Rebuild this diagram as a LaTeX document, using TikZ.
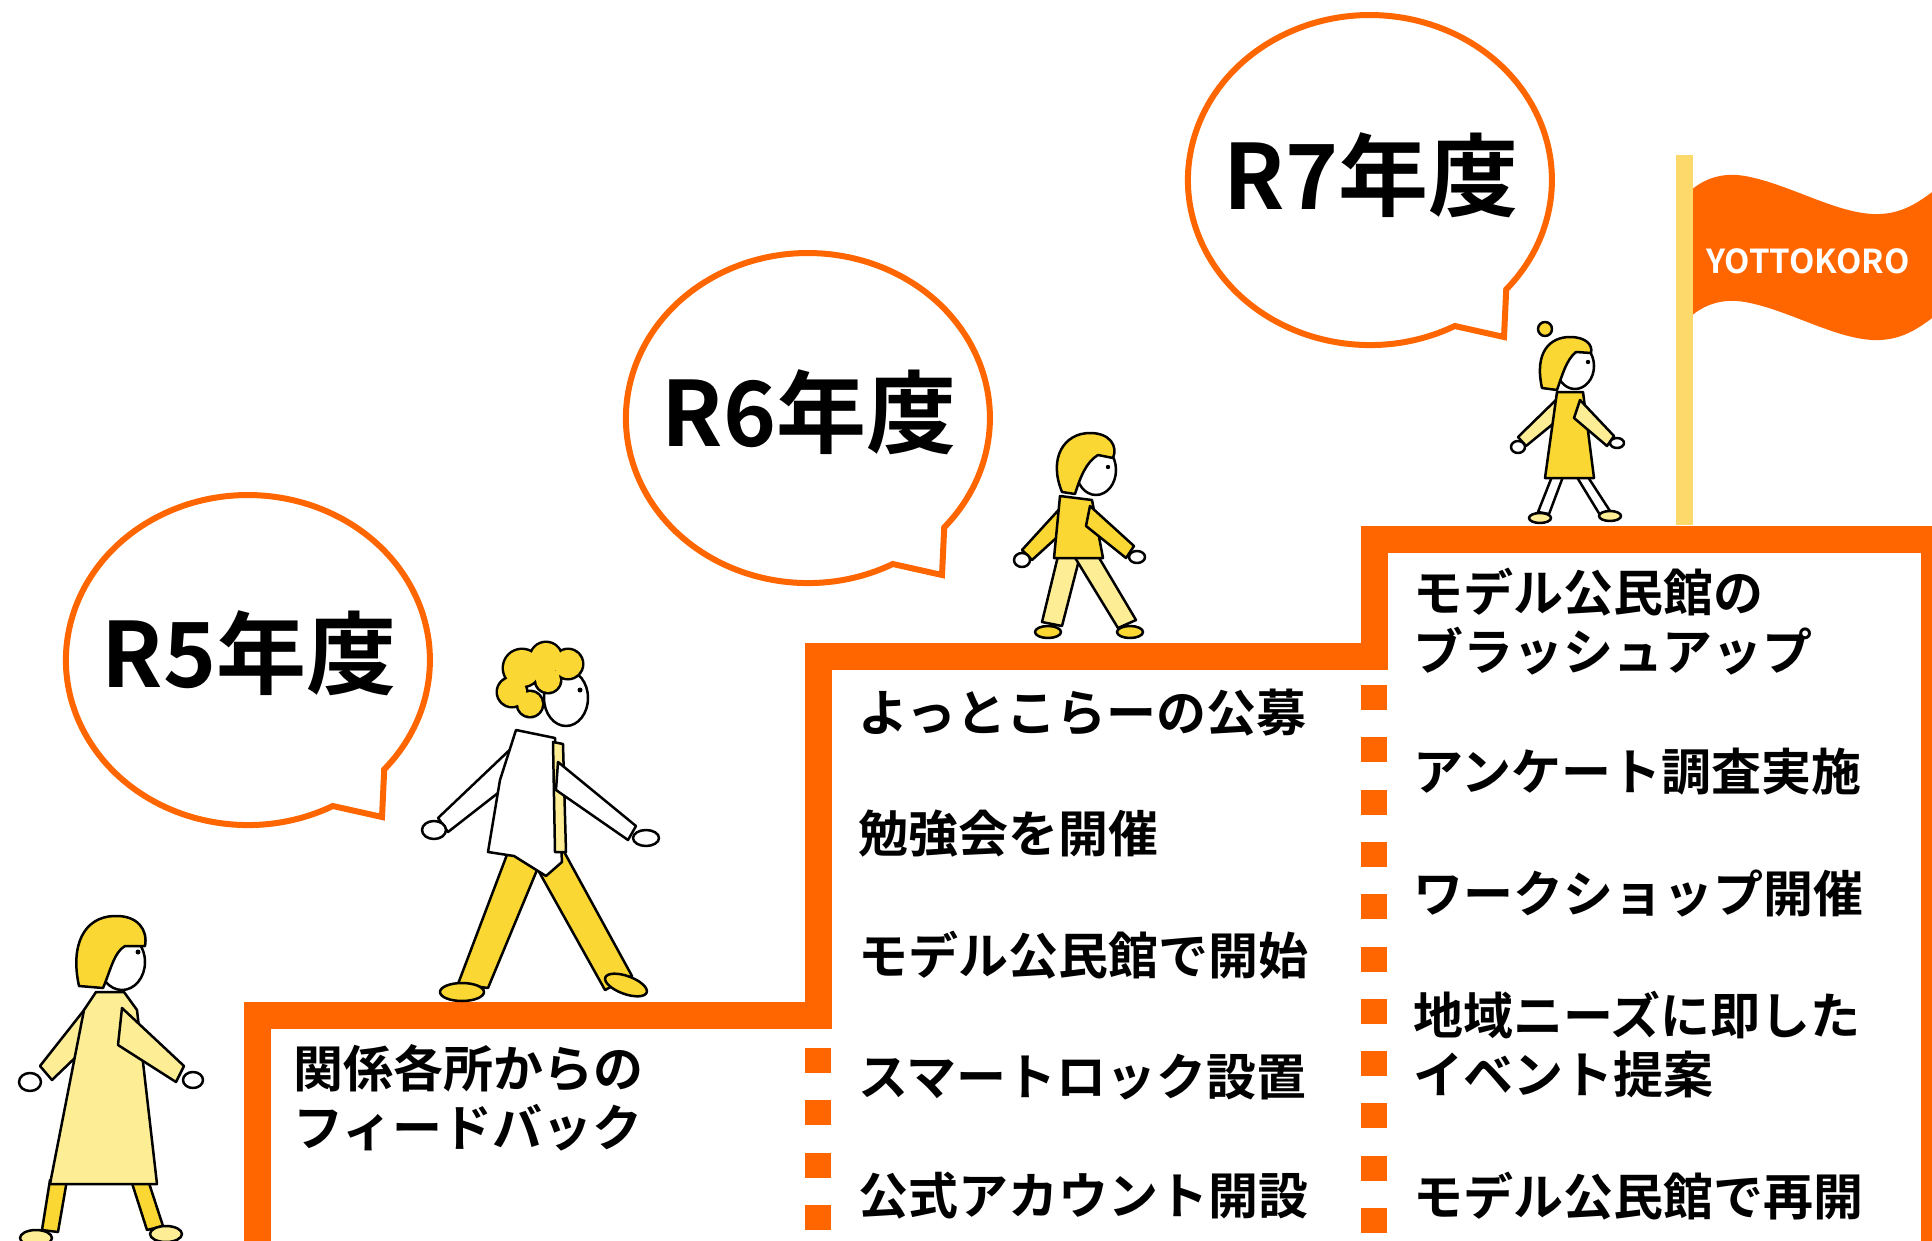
\documentclass[tikz,border=0pt]{standalone}
\usepackage{fontspec}
\setmainfont{Noto Sans CJK JP}[BoldFont={Noto Sans CJK JP Bold}]
\definecolor{stairorange}{RGB}{255,102,0}
\definecolor{poleyellow}{RGB}{253,216,106}
\definecolor{hairyellow}{RGB}{250,215,50}
\definecolor{paleyellow}{RGB}{253,238,150}

\begin{document}
\begin{tikzpicture}[x=1pt, y=-1pt,
  stair/.style={draw=stairorange, line width=27, line join=miter},
  stairdash/.style={draw=stairorange, line width=26, dash pattern=on 25pt off 27.3pt},
  bubble/.style={draw=stairorange, fill=white, line width=6, line join=miter},
  year/.style={font=\fontsize{90}{90}\selectfont\bfseries, inner sep=0pt},
  item/.style={font=\fontsize{50}{59}\selectfont\bfseries, anchor=west, inner sep=0pt, align=left},
  ink/.style={draw=black, line width=2.5, line join=round, line cap=round},
  skin/.style={ink, fill=white},
  hair/.style={ink, fill=hairyellow},
  cloth/.style={ink, fill=paleyellow}]
\useasboundingbox (0,0) rectangle (1932,1241);
\clip (0,0) rectangle (1932,1241);
\fill[white] (0,0) rectangle (1932,1241);

% stairs
\draw[stair] (257,1250) -- (257,1015.5) -- (818,1015.5) -- (818,656.5) -- (1374,656.5) -- (1374,539) -- (1934,539) -- (1934,1250);
\draw[stairdash] (818,1048) -- (818,1250);
\draw[stairdash] (1374,685) -- (1374,1250);

% speech bubbles
\draw[bubble, shift={(248,660)}] (84.8,146) arc[start angle=62.2, end angle=401.5, x radius=182, y radius=165] -- (134,157) -- cycle;
\draw[bubble, shift={(808,418)}] (84.8,146) arc[start angle=62.2, end angle=401.5, x radius=182, y radius=165] -- (134,157) -- cycle;
\draw[bubble, shift={(1370,180)}] (84.8,146) arc[start angle=62.2, end angle=401.5, x radius=182, y radius=165] -- (134,157) -- cycle;
\node[year] (r5) at (249,653) {R5年度};
\node[year] (r6) at (809,412) {R6年度};
\node[year] (r7) at (1371,175) {R7年度};

% flag
\fill[stairorange] (1681,200) .. controls (1700,178) and (1722,172) .. (1745,176) .. controls (1790,184) and (1840,216) .. (1880,214) .. controls (1905,213) and (1922,200) .. (1940,186) -- (1940,312) .. controls (1922,326) and (1905,339) .. (1880,340) .. controls (1840,342) and (1790,310) .. (1745,302) .. controls (1722,298) and (1700,304) .. (1681,326) -- cycle;
\draw[poleyellow, line width=17] (1684.5,155) -- (1684.5,525);
\node[font=\fontsize{33}{33}\selectfont\bfseries, text=white] (brand) at (1808,261) {YOTTOKORO};

% steps
\node[item] (feedback) at (293,1098) {関係各所からの\\フィードバック};
\node[item] (koubo) at (858,713) {よっとこらーの公募};
\node[item] (benkyo) at (858,834) {勉強会を開催};
\node[item] (kaishi) at (858,955) {モデル公民館で開始};
\node[item] (lock) at (858,1077) {スマートロック設置};
\node[item] (account) at (858,1196) {公式アカウント開設};
\node[item] (brushup) at (1413,622) {モデル公民館の\\ブラッシュアップ};
\node[item] (survey) at (1413,772) {アンケート調査実施};
\node[item] (workshop) at (1413,893) {ワークショップ開催};
\node[item] (event) at (1413,1045) {地域ニーズに即した\\イベント提案};
\node[item] (saikai) at (1413,1196) {モデル公民館で再開};

% walker in the coat
\path[hair] (50,1180) -- (67,1180) -- (58,1232) -- (42,1230) -- cycle;
\path[hair] (131,1180) -- (148,1180) -- (163,1226) -- (147,1230) -- cycle;
\path[cloth] (36,1238) ellipse[x radius=16, y radius=8];
\path[cloth] (166,1234) ellipse[x radius=16, y radius=8];
\path[cloth] (92,1000) -- (104,1030) -- (52,1080) -- (40,1066) -- cycle;
\path[skin] (30,1082) ellipse[x radius=11, y radius=9];
\path[cloth] (96,992) -- (124,992) -- (137,1010) -- (157,1184) -- (50,1184) -- (84,1010) -- cycle;
\path[cloth] (122,1008) -- (184,1066) -- (176,1082) -- (118,1045) -- cycle;
\path[skin] (193,1080) ellipse[x radius=10, y radius=8];
\path[skin] (122,962) ellipse[x radius=23, y radius=28];
\path[hair] (79,986) .. controls (70,945) and (84,917) .. (114,916) .. controls (138,915) and (148,930) .. (145,946) -- (125,946) .. controls (114,952) and (110,972) .. (103,988) -- cycle;
\fill (138,952) circle[radius=2.5];

% walker with the beard
\path[hair] (508,852) -- (542,858) -- (488,988) -- (458,984) -- cycle;
\path[hair] (462,992) ellipse[x radius=22, y radius=9];
\path[hair] (528,852) -- (562,848) -- (632,976) -- (605,990) -- cycle;
\path[hair, rotate around={-20:(626,985)}] (626,985) ellipse[x radius=22, y radius=9];
\path[skin] (518,742) -- (530,768) -- (448,832) -- (438,818) -- cycle;
\path[skin] (434,830) ellipse[x radius=12, y radius=9];
\path[skin] (516,730) -- (555,738) -- (562,862) -- (546,876) -- (514,856) -- (488,852) -- (500,780) -- cycle;
\path[cloth] (553,742) -- (563,744) -- (566,852) -- (555,852) -- cycle;
\path[skin] (558,762) -- (636,826) -- (628,840) -- (556,790) -- cycle;
\path[skin] (646,838) ellipse[x radius=13, y radius=8];
\path[skin] (566,698) ellipse[x radius=22, y radius=28];
\fill[black] (522,668) circle[radius=20.5] (546,658) circle[radius=17.5] (568,664) circle[radius=16.5] (512,692) circle[radius=16.5] (530,704) circle[radius=14.5] (548,680) circle[radius=14.5];
\fill[hairyellow] (522,668) circle[radius=18] (546,658) circle[radius=15] (568,664) circle[radius=14] (512,692) circle[radius=14] (530,704) circle[radius=12] (548,680) circle[radius=12];
\fill (580,690) circle[radius=2.5];

% walker in the hoodie
\path[cloth] (1058,556) -- (1080,556) -- (1062,626) -- (1042,622) -- cycle;
\path[hair] (1048,632) ellipse[x radius=13, y radius=6];
\path[cloth] (1074,556) -- (1098,556) -- (1136,620) -- (1118,628) -- cycle;
\path[hair] (1130,632) ellipse[x radius=13, y radius=6];
\path[hair] (1064,504) -- (1076,520) -- (1032,560) -- (1022,550) -- cycle;
\path[skin] (1022,560) ellipse[x radius=8, y radius=7];
\path[hair] (1060,496) -- (1092,500) -- (1103,558) -- (1054,558) -- cycle;
\path[hair] (1090,506) -- (1134,546) -- (1126,558) -- (1086,526) -- cycle;
\path[skin] (1137,557) ellipse[x radius=8, y radius=6];
\path[skin] (1096,470) ellipse[x radius=20, y radius=25];
\path[hair] (1062,492) .. controls (1048,458) and (1064,433) .. (1090,433) .. controls (1110,433) and (1118,446) .. (1113,458) -- (1098,455) .. controls (1086,462) and (1080,478) .. (1075,494) -- cycle;
\fill (1108,467) circle[radius=2.2];

% walker with the bun
\path[skin] (1553,474) -- (1564,474) -- (1549,514) -- (1538,512) -- cycle;
\path[cloth] (1540,518) ellipse[x radius=11, y radius=5];
\path[skin] (1575,474) -- (1586,474) -- (1610,511) -- (1600,515) -- cycle;
\path[cloth] (1610,516) ellipse[x radius=11, y radius=5];
\path[cloth] (1560,396) -- (1570,410) -- (1526,446) -- (1518,437) -- cycle;
\path[skin] (1518,447) ellipse[x radius=7, y radius=6];
\path[hair] (1557,392) -- (1583,392) -- (1594,478) -- (1545,478) -- cycle;
\path[cloth] (1580,400) -- (1614,436) -- (1607,446) -- (1574,418) -- cycle;
\path[skin] (1617,443) ellipse[x radius=7, y radius=5];
\path[skin] (1575,366) ellipse[x radius=19, y radius=23];
\path[hair] (1542,388) .. controls (1534,352) and (1550,337) .. (1570,337) .. controls (1586,337) and (1593,345) .. (1591,353) -- (1576,352) .. controls (1566,360) and (1562,376) .. (1557,390) -- cycle;
\path[hair] (1545,329) circle[radius=7];
\fill (1588,362) circle[radius=2.2];
\end{tikzpicture}
\end{document}
